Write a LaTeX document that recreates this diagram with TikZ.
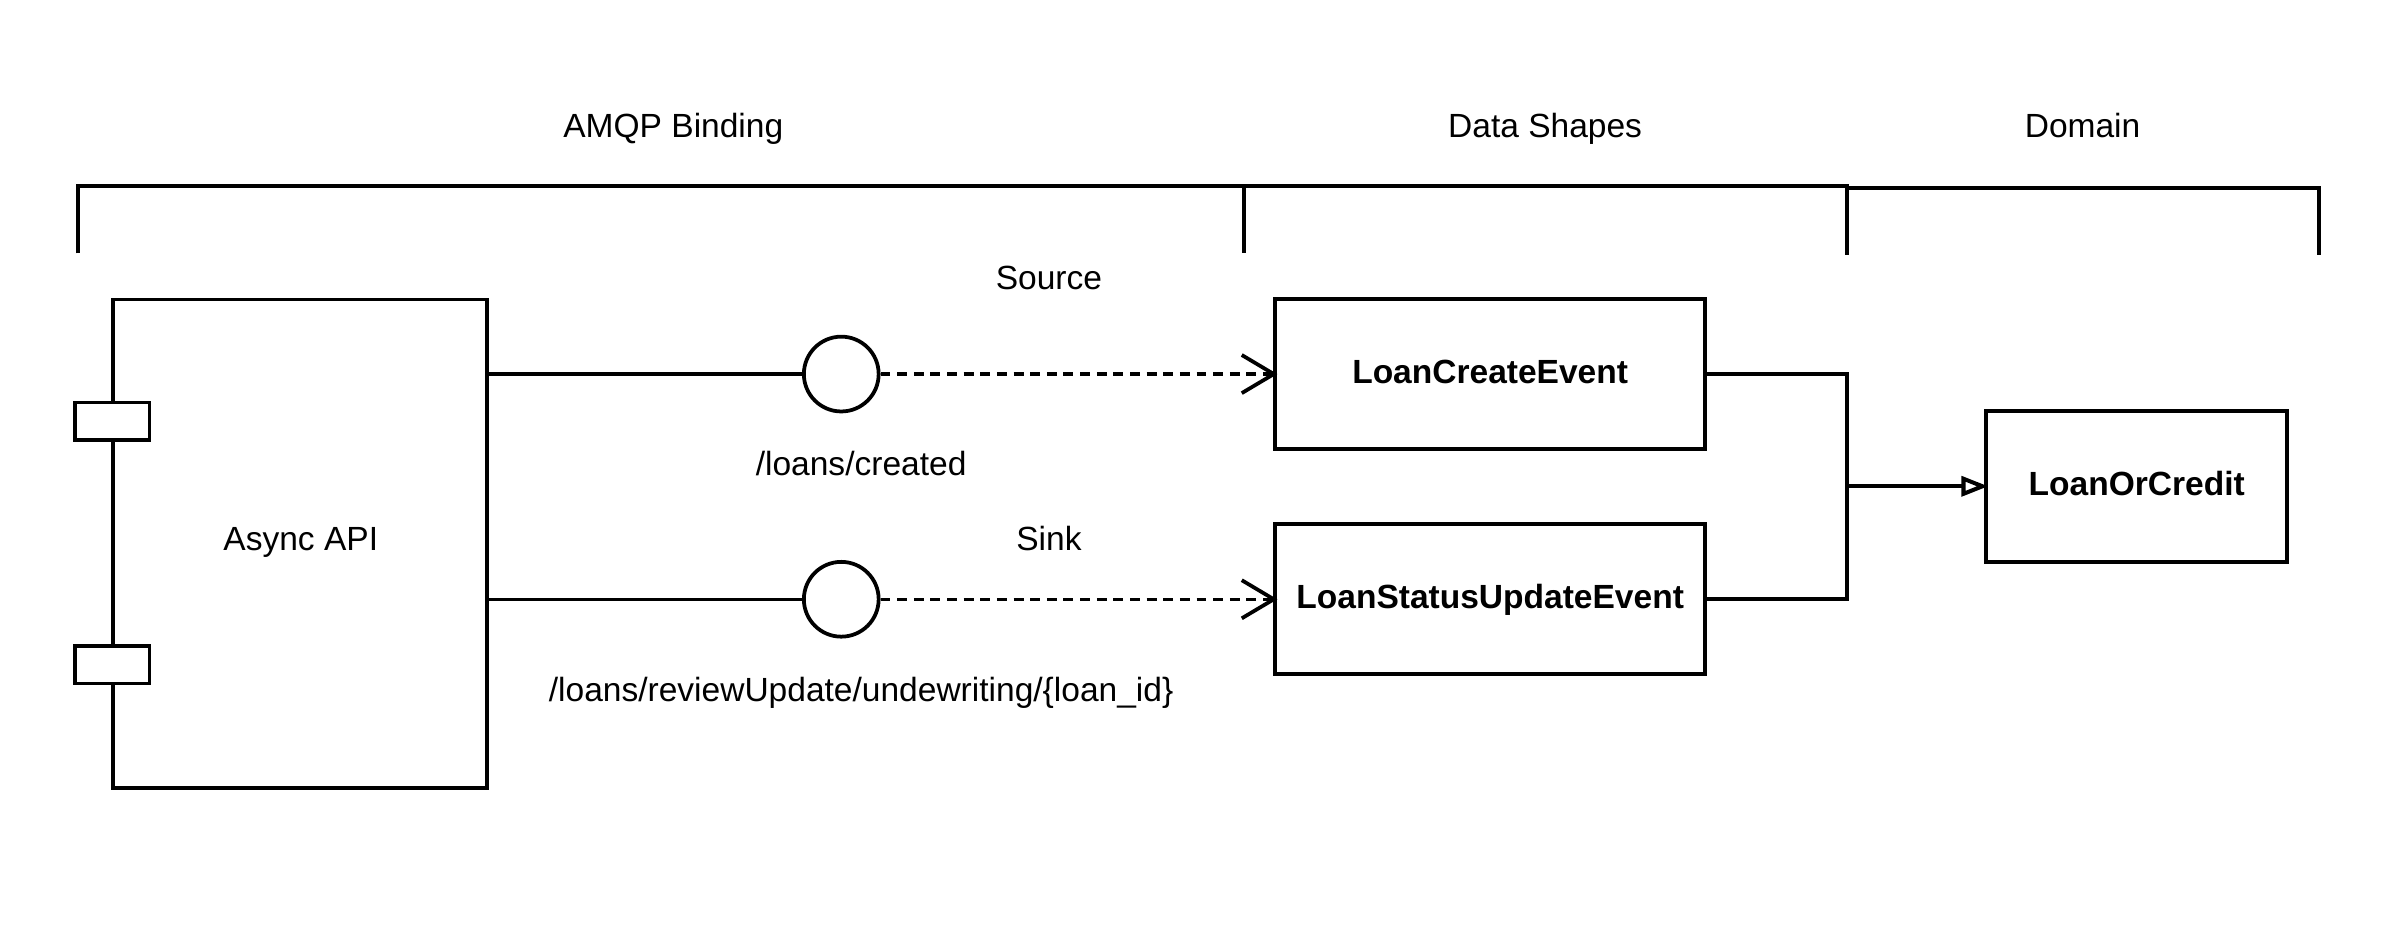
\documentclass[tikz,border=0pt]{standalone}
\usepackage{fontspec}
\setmainfont{Liberation Sans}
\usepackage{tikz}
\usetikzlibrary{arrows.meta}
\tikzset{
	txt/.style = {align=center, inner sep=0pt, text height=0.716em, text depth=0pt,
		font=\fontsize{12.5}{15}\selectfont},
	api_box/.style = {rectangle, draw=black, line width=1.3pt,
		minimum width=4.9cm, minimum height=6.4cm},
	api_port/.style = {rectangle, draw=black, fill=white, line width=1.3pt,
		minimum width=0.98cm, minimum height=0.49cm},
	iface/.style = {circle, draw=black, line width=1.4pt, minimum size=0.98cm, inner sep=0pt},
	evt_box/.style = {txt, rectangle, draw=black, line width=1.5pt,
		font=\fontsize{12.5}{15}\selectfont\bfseries, minimum width=5.64cm, minimum height=1.96cm},
	dom_box/.style = {evt_box, minimum width=3.94cm, minimum height=1.98cm},
	flow/.style = {dashed, dash pattern=on 3.7pt off 2.5pt, line width=1.3pt, shorten >=-0.06cm,
		-{Straight Barb[length=0.42cm, width=0.5cm, line width=1.4pt, line join=miter]}}
}

\begin{document}
\begin{tikzpicture}[x=0.02cm, y=-0.02cm, line width=1.3pt]
\useasboundingbox (0,0) rectangle (1568,618);
% layer brackets
\draw [line width=1.5pt] (51,166) |- (815,122) -- (815,166);
\draw [line width=1.5pt] (815,122) -- (1210,122) -- (1210,167);
\draw [line width=1.5pt] (1210,167) |- (1519,123) -- (1519,167);
\node [txt] (amqp) at (441,84) {AMQP Binding};
\node [txt] (shapes) at (1012,84) {Data Shapes};
\node [txt] (domain) at (1364,84) {Domain};
% component
\node [api_box] (api) at (196.5,356) {};
\node [txt] (apilbl) at (197,354) {Async API};
\node [api_port] (p1) at (73.5,276) {};
\node [api_port] (p2) at (73.5,435.5) {};
% channels
\node [iface] (src) at (551,245) {};
\node [iface] (snk) at (551,392.5) {};
\node [txt] (srclbl) at (687,183) {Source};
\node [txt] (snklbl) at (687,354) {Sink};
\node [txt] (srcpath) at (564,305) {/loans/created};
\node [txt] (snkpath) at (564,453) {/loans/reviewUpdate/undewriting/\{loan\_id\}};
% shapes
\node [evt_box] (create) at (976,245) {LoanCreateEvent};
\node [evt_box] (status) at (976,392.5) {LoanStatusUpdateEvent};
\node [dom_box] (loan) at (1399.5,318.5) {LoanOrCredit};
\coordinate (join) at (1210,318.5);

\draw (api.east |- src) -- (src.west);
\draw (api.east |- snk) -- (snk.west);
\draw [flow] (src.east) -- (create.west);
\draw [flow] (snk.east) -- (status.west);
\draw [line width=1.5pt] (create.east) -| (join);
\draw [line width=1.5pt] (status.east) -| (join);
\draw [line width=1.5pt, shorten >=-0.05cm, -{Triangle[open, length=0.35cm, width=0.26cm, line width=1.5pt]}] (join) -- (loan.west);
\end{tikzpicture}
\end{document}
